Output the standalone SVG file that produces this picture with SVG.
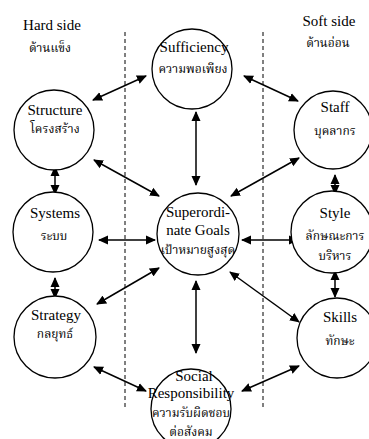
<svg xmlns="http://www.w3.org/2000/svg" width="369" height="439" viewBox="0 0 369 439">
  <style>
    .node { fill: #fff; stroke: #000; stroke-width: 1.3; }
    .en { font-family: "Liberation Serif", "Times New Roman", serif; font-size: 15px; fill: #000; text-anchor: middle; }
    .th { font-family: "Liberation Serif", "Noto Serif Thai", "Noto Sans Thai", "Noto Sans", serif; font-size: 12px; fill: #000; text-anchor: middle; }
    .link { stroke: #000; stroke-width: 1.5; fill: none; marker-start: url(#head); marker-end: url(#head); }
    .divider { stroke: #000; stroke-width: 1; stroke-dasharray: 4 3; }
  </style>
  <defs>
    <marker id="head" viewBox="0 0 10 10" refX="9" refY="5" markerWidth="10" markerHeight="10" markerUnits="userSpaceOnUse" orient="auto-start-reverse">
      <path d="M0,0.5 L10,5 L0,9.5 z" fill="#000"/>
    </marker>
  </defs>

  <rect width="369" height="439" fill="#fff"/>

  <!-- side headings -->
  <g id="hard-side">
    <text class="en" x="52" y="30">Hard side</text>
    <text class="th" x="50" y="52">ด้านแข็ง</text>
  </g>
  <g id="soft-side">
    <text class="en" x="329" y="26">Soft side</text>
    <text class="th" x="328" y="47">ด้านอ่อน</text>
  </g>

  <!-- dashed dividers -->
  <g id="dividers">
    <line class="divider" x1="125" y1="32" x2="125" y2="408"/>
    <line class="divider" x1="263" y1="32" x2="263" y2="408"/>
  </g>

  <!-- connectors -->
  <g id="connectors">
    <line class="link" x1="93" y1="100" x2="146" y2="76"/>
    <line class="link" x1="244" y1="76" x2="298" y2="101"/>
    <line class="link" x1="196" y1="112" x2="196" y2="185"/>
    <line class="link" x1="94" y1="160" x2="159" y2="196"/>
    <line class="link" x1="231" y1="196" x2="299" y2="158"/>
    <line class="link" x1="99" y1="240" x2="155" y2="240"/>
    <line class="link" x1="242" y1="240" x2="298" y2="240"/>
    <line class="link" x1="97" y1="304" x2="159" y2="268"/>
    <line class="link" x1="230" y1="272" x2="299" y2="322"/>
    <line class="link" x1="196" y1="281" x2="196" y2="353"/>
    <line class="link" x1="94" y1="367" x2="146" y2="391"/>
    <line class="link" x1="242" y1="391" x2="299" y2="366"/>
    <line class="link" x1="55" y1="167" x2="55" y2="194"/>
    <line class="link" x1="55" y1="278" x2="55" y2="298"/>
    <line class="link" x1="335" y1="175" x2="335" y2="194"/>
    <line class="link" x1="335" y1="271" x2="335" y2="297"/>
  </g>

  <!-- nodes -->
  <g id="sufficiency">
    <circle class="node" cx="192" cy="69" r="40"/>
    <text class="en" x="194" y="52">Sufficiency</text>
    <text class="th" x="193" y="73">ความพอเพียง</text>
  </g>
  <g id="structure">
    <circle class="node" cx="54" cy="130" r="40"/>
    <text class="en" x="55" y="115">Structure</text>
    <text class="th" x="55" y="133">โครงสร้าง</text>
  </g>
  <g id="systems">
    <circle class="node" cx="53" cy="232" r="40"/>
    <text class="en" x="55" y="218">Systems</text>
    <text class="th" x="54" y="240">ระบบ</text>
  </g>
  <g id="strategy">
    <circle class="node" cx="55" cy="337" r="41"/>
    <text class="en" x="56" y="320">Strategy</text>
    <text class="th" x="55" y="338">กลยุทธ์</text>
  </g>
  <g id="superordinate-goals">
    <circle class="node" cx="198" cy="234" r="41"/>
    <text class="en" x="198" y="217">Superordi-</text>
    <text class="en" x="198" y="235">nate Goals</text>
    <text class="th" x="198" y="254">เป้าหมายสูงสุด</text>
  </g>
  <g id="staff">
    <circle class="node" cx="333" cy="130" r="39"/>
    <text class="en" x="335" y="112">Staff</text>
    <text class="th" x="335" y="135">บุคลากร</text>
  </g>
  <g id="style">
    <circle class="node" cx="332" cy="232" r="41"/>
    <text class="en" x="335" y="218">Style</text>
    <text class="th" x="335" y="240">ลักษณะการ</text>
    <text class="th" x="335" y="260">บริหาร</text>
  </g>
  <g id="skills">
    <circle class="node" cx="337" cy="338" r="40"/>
    <text class="en" x="340" y="322">Skills</text>
    <text class="th" x="340" y="345">ทักษะ</text>
  </g>
  <g id="social-responsibility">
    <circle class="node" cx="191" cy="409" r="40"/>
    <text class="en" x="194" y="381">Social</text>
    <text class="en" x="191" y="398">Responsibility</text>
    <text class="th" x="191" y="417">ความรับผิดชอบ</text>
    <text class="th" x="191" y="436">ต่อสังคม</text>
  </g>
</svg>
